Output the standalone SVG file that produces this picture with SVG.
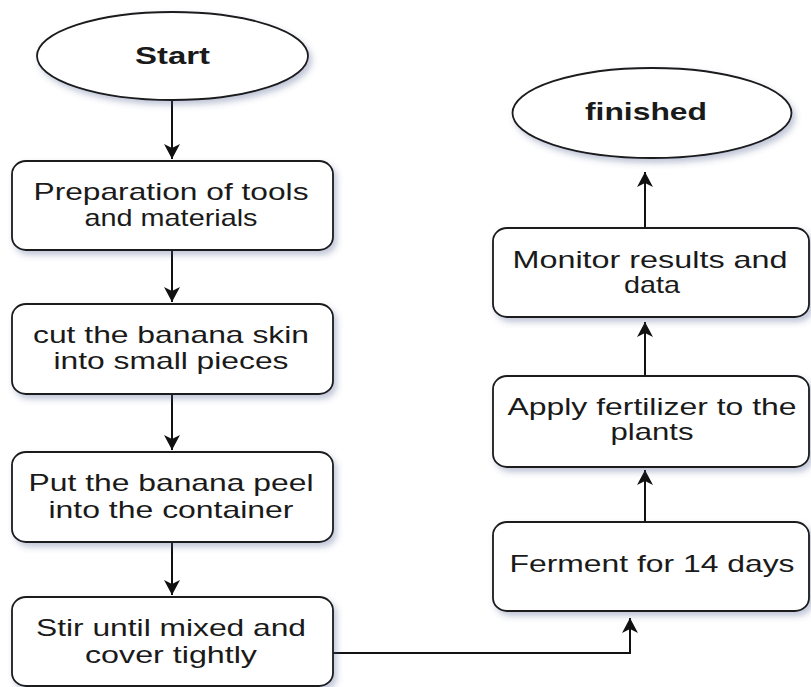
<svg xmlns="http://www.w3.org/2000/svg" width="811" height="687" viewBox="0 0 811 687">
<style>
.shape{fill:#ffffff;stroke:#1a1a1a;stroke-width:1.8;filter:url(#sh)}
.t{font-family:"Liberation Sans",Arial,sans-serif;font-size:24px;fill:#1a1a1a;text-anchor:middle}
.b{font-weight:bold}
.c{fill:none;stroke:#111;stroke-width:2;marker-end:url(#arr)}
</style>
<defs>
<filter id="sh" x="-10%" y="-10%" width="125%" height="130%">
<feDropShadow dx="3" dy="4" stdDeviation="3" flood-color="#4a5a8a" flood-opacity="0.35"/>
</filter>
<marker id="arr" markerUnits="userSpaceOnUse" markerWidth="16" markerHeight="18" viewBox="0 -9 15 18" refX="15" refY="0" orient="auto">
<path d="M0,-8 L15,0 L0,8 L4,0 Z" fill="#111"/>
</marker>
</defs>
<g id="connectors">
<path class="c" d="M172,100 V159"/>
<path class="c" d="M172,250 V302"/>
<path class="c" d="M172,394 V450"/>
<path class="c" d="M172,542 V595"/>
<path class="c" d="M333,653 H630 V618"/>
<path class="c" d="M645,522 V470"/>
<path class="c" d="M645,376 V322"/>
<path class="c" d="M645,228 V172"/>
</g>
<g id="start">
<ellipse class="shape" cx="172.5" cy="56" rx="135.5" ry="44"/>
<text class="t b" x="172.5" y="64" textLength="75" lengthAdjust="spacingAndGlyphs">Start</text>
</g>
<g id="prep">
<rect class="shape" x="12" y="161" width="321" height="89" rx="14" ry="13"/>
<text class="t" x="171" y="200" textLength="275" lengthAdjust="spacingAndGlyphs">Preparation of tools</text>
<text class="t" x="171" y="226" textLength="173" lengthAdjust="spacingAndGlyphs">and materials</text>
</g>
<g id="cut">
<rect class="shape" x="12" y="304" width="321" height="90" rx="14" ry="13"/>
<text class="t" x="171" y="343" textLength="276" lengthAdjust="spacingAndGlyphs">cut the banana skin</text>
<text class="t" x="171" y="369" textLength="235" lengthAdjust="spacingAndGlyphs">into small pieces</text>
</g>
<g id="put">
<rect class="shape" x="12" y="452" width="321" height="90" rx="14" ry="13"/>
<text class="t" x="171" y="491" textLength="285" lengthAdjust="spacingAndGlyphs">Put the banana peel</text>
<text class="t" x="171" y="518" textLength="245" lengthAdjust="spacingAndGlyphs">into the container</text>
</g>
<g id="stir">
<rect class="shape" x="12" y="597" width="321" height="89" rx="14" ry="13"/>
<text class="t" x="171" y="636" textLength="270" lengthAdjust="spacingAndGlyphs">Stir until mixed and</text>
<text class="t" x="171" y="663" textLength="172" lengthAdjust="spacingAndGlyphs">cover tightly</text>
</g>
<g id="ferment">
<rect class="shape" x="493" y="522" width="316" height="89" rx="14" ry="13"/>
<text class="t" x="652" y="572" textLength="285" lengthAdjust="spacingAndGlyphs">Ferment for 14 days</text>
</g>
<g id="apply">
<rect class="shape" x="493" y="376" width="316" height="91" rx="14" ry="13"/>
<text class="t" x="652" y="415" textLength="289" lengthAdjust="spacingAndGlyphs">Apply fertilizer to the</text>
<text class="t" x="652" y="440" textLength="83" lengthAdjust="spacingAndGlyphs">plants</text>
</g>
<g id="monitor">
<rect class="shape" x="493" y="228" width="316" height="89" rx="14" ry="13"/>
<text class="t" x="650" y="268" textLength="275" lengthAdjust="spacingAndGlyphs">Monitor results and</text>
<text class="t" x="652" y="293" textLength="56" lengthAdjust="spacingAndGlyphs">data</text>
</g>
<g id="finished">
<ellipse class="shape" cx="652" cy="113" rx="139.5" ry="45"/>
<text class="t b" x="646" y="120" textLength="122" lengthAdjust="spacingAndGlyphs">finished</text>
</g>
</svg>
